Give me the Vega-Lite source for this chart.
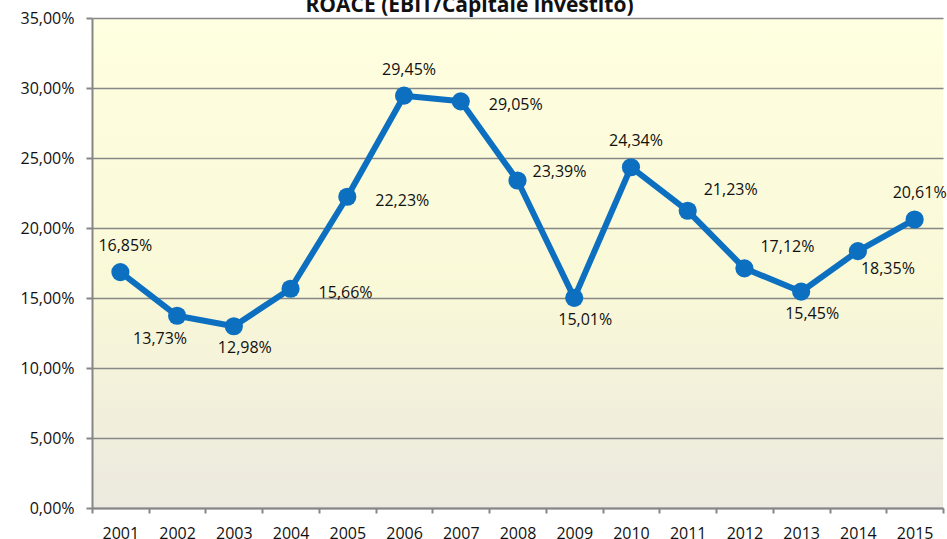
{
  "$schema": "https://vega.github.io/schema/vega-lite/v6.json",
  "width": 851,
  "height": 490,
  "autosize": {"type": "none"},
  "padding": {"left": 92, "top": 18, "right": 4, "bottom": 31},
  "background": "#ffffff",
  "title": {
    "text": "ROACE (EBIT/Capitale investito)",
    "anchor": "middle",
    "frame": "group",
    "dx": -48,
    "baseline": "bottom",
    "offset": 0,
    "dy": 27,
    "font": "Open Sans",
    "fontSize": 21,
    "fontWeight": "bold",
    "color": "#111111"
  },
  "data": {
    "values": [
      {"year": "2001", "roace": 0.1685},
      {"year": "2002", "roace": 0.1373},
      {"year": "2003", "roace": 0.1298},
      {"year": "2004", "roace": 0.1566},
      {"year": "2005", "roace": 0.2223},
      {"year": "2006", "roace": 0.2945},
      {"year": "2007", "roace": 0.2905},
      {"year": "2008", "roace": 0.2339},
      {"year": "2009", "roace": 0.1501},
      {"year": "2010", "roace": 0.2434},
      {"year": "2011", "roace": 0.2123},
      {"year": "2012", "roace": 0.1712},
      {"year": "2013", "roace": 0.1545},
      {"year": "2014", "roace": 0.1835},
      {"year": "2015", "roace": 0.2061}
    ]
  },
  "encoding": {
    "x": {
      "field": "year",
      "type": "ordinal",
      "title": null,
      "scale": {"paddingInner": 0, "paddingOuter": 0},
      "axis": {
        "labelAngle": 0,
        "tickBand": "extent",
        "tickSize": 5,
        "tickColor": "#868686",
        "tickWidth": 2,
        "domainColor": "#868686",
        "domainWidth": 2,
        "labelFont": "Open Sans",
        "labelFontSize": 16,
        "labelColor": "#111111",
        "labelPadding": 12,
        "grid": false
      }
    },
    "y": {
      "field": "roace",
      "type": "quantitative",
      "title": null,
      "scale": {"domain": [0, 0.35], "nice": false},
      "axis": {
        "values": [0, 0.05, 0.1, 0.15, 0.2, 0.25, 0.3, 0.35],
        "format": ".2%",
        "tickSize": 6,
        "tickColor": "#868686",
        "tickWidth": 2,
        "domainColor": "#868686",
        "domainWidth": 2,
        "grid": true,
        "gridColor": "#878787",
        "gridWidth": 1.6,
        "labelFont": "Open Sans",
        "labelFontSize": 16,
        "labelColor": "#111111",
        "labelPadding": 12
      }
    }
  },
  "layer": [
    {
      "mark": {"type": "line", "color": "#0C6FC0", "strokeWidth": 6, "strokeJoin": "round"}
    },
    {
      "mark": {"type": "point", "filled": true, "opacity": 1, "color": "#0C6FC0", "size": 330}
    },
    {
      "transform": [{"filter": {"field": "year", "oneOf": ["2001", "2006", "2010", "2015"]}}],
      "mark": {"type": "text", "font": "Open Sans", "fontSize": 16, "color": "#111111", "dx": 5, "dy": -26},
      "encoding": {"text": {"field": "roace", "type": "quantitative", "format": ".2%"}}
    },
    {
      "transform": [{"filter": {"field": "year", "oneOf": ["2002"]}}],
      "mark": {"type": "text", "font": "Open Sans", "fontSize": 16, "color": "#111111", "dx": -17, "dy": 23},
      "encoding": {"text": {"field": "roace", "type": "quantitative", "format": ".2%"}}
    },
    {
      "transform": [{"filter": {"field": "year", "oneOf": ["2003", "2009", "2013"]}}],
      "mark": {"type": "text", "font": "Open Sans", "fontSize": 16, "color": "#111111", "dx": 11, "dy": 22},
      "encoding": {"text": {"field": "roace", "type": "quantitative", "format": ".2%"}}
    },
    {
      "transform": [{"filter": {"field": "year", "oneOf": ["2004", "2005", "2007"]}}],
      "mark": {"type": "text", "font": "Open Sans", "fontSize": 16, "color": "#111111", "dx": 55, "dy": 4},
      "encoding": {"text": {"field": "roace", "type": "quantitative", "format": ".2%"}}
    },
    {
      "transform": [{"filter": {"field": "year", "oneOf": ["2008"]}}],
      "mark": {"type": "text", "font": "Open Sans", "fontSize": 16, "color": "#111111", "dx": 42, "dy": -9},
      "encoding": {"text": {"field": "roace", "type": "quantitative", "format": ".2%"}}
    },
    {
      "transform": [{"filter": {"field": "year", "oneOf": ["2011", "2012"]}}],
      "mark": {"type": "text", "font": "Open Sans", "fontSize": 16, "color": "#111111", "dx": 43, "dy": -21},
      "encoding": {"text": {"field": "roace", "type": "quantitative", "format": ".2%"}}
    },
    {
      "transform": [{"filter": {"field": "year", "oneOf": ["2014"]}}],
      "mark": {"type": "text", "font": "Open Sans", "fontSize": 16, "color": "#111111", "dx": 30, "dy": 18},
      "encoding": {"text": {"field": "roace", "type": "quantitative", "format": ".2%"}}
    }
  ],
  "config": {
    "locale": {"number": {"decimal": ",", "thousands": ".", "grouping": [3], "currency": ["€", ""]}},
    "view": {
      "stroke": null,
      "fill": {
        "gradient": "linear",
        "x1": 0, "y1": 0, "x2": 0, "y2": 1,
        "stops": [
          {"offset": 0, "color": "#FFFFE1"},
          {"offset": 0.55, "color": "#F9F8D7"},
          {"offset": 1, "color": "#ECE9DF"}
        ]
      }
    }
  }
}
